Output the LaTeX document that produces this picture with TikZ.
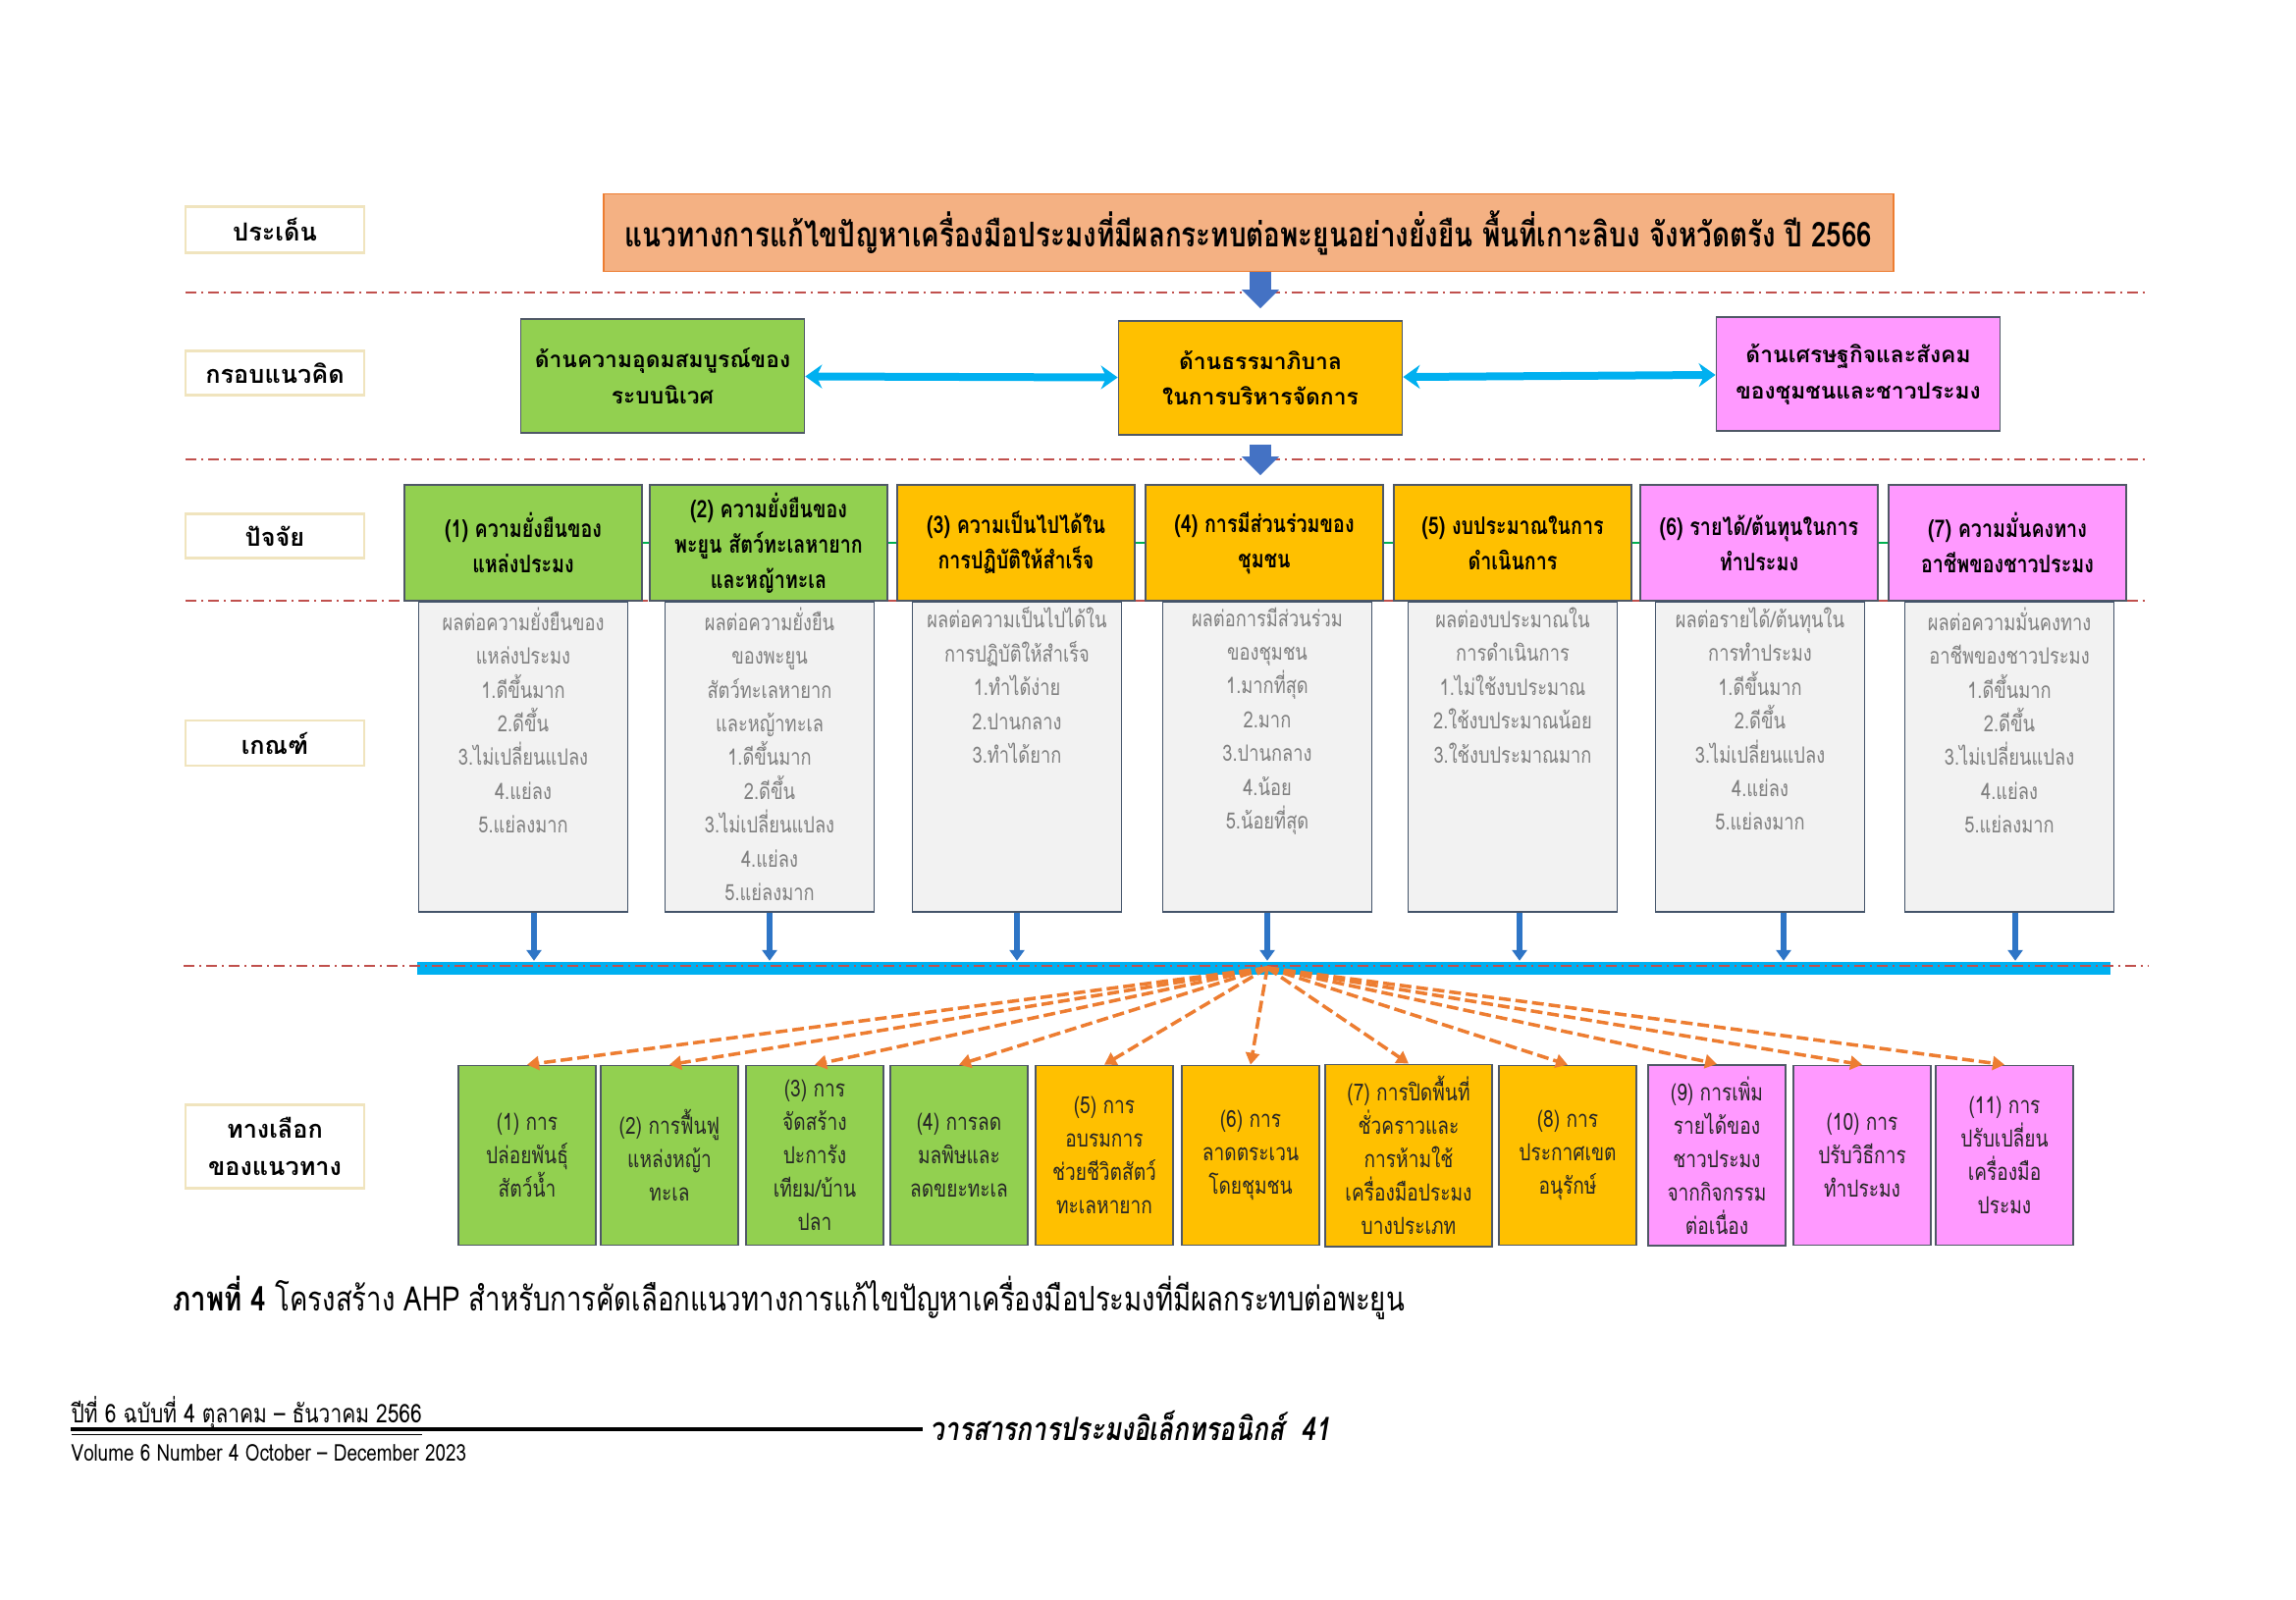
\documentclass[tikz,border=0pt]{standalone}
\usepackage{fontspec}
\usepackage{xcolor}
\usepackage{tikz}
\usetikzlibrary{arrows.meta,positioning,calc}

\newfontfamily\thaifont[Script=Thai]{Loma}
\newfontfamily\thainarrow[Script=Thai,FakeStretch=0.8]{Loma}

\definecolor{titleorange}{HTML}{F4B183}
\definecolor{titleedge}{HTML}{ED7D31}
\definecolor{ecogreen}{HTML}{92D050}
\definecolor{govgold}{HTML}{FFC000}
\definecolor{socpink}{HTML}{FF99FF}
\definecolor{boxedge}{HTML}{4F5866}
\definecolor{critfill}{HTML}{F2F2F2}
\definecolor{critedge}{HTML}{44546A}
\definecolor{crittext}{HTML}{7F7F7F}
\definecolor{downblue}{HTML}{4472C4}
\definecolor{cyanbar}{HTML}{00B0F0}
\definecolor{critblue}{HTML}{2E75C6}
\definecolor{altorange}{HTML}{ED7D31}
\definecolor{sepred}{HTML}{C0504D}
\definecolor{lbledge}{HTML}{F0E4BE}
\definecolor{linkgreen}{HTML}{00B050}

\tikzset{
  lbl/.style={draw=lbledge, line width=0.6pt, fill=white, minimum width=18.2mm, minimum height=4.5mm,
    align=center, font=\thaifont\bfseries\fontsize{7.2}{11}\selectfont},
  concbox/.style={draw=boxedge, line width=0.5pt, minimum width=28.9mm, minimum height=11.6mm,
    align=center, font=\thaifont\bfseries\fontsize{6.5}{10.5}\selectfont},
  factor/.style={draw=boxedge, line width=0.5pt, minimum width=24.2mm, minimum height=11.8mm, inner ysep=0pt,
    align=center, font=\thainarrow\bfseries\fontsize{7}{10.2}\selectfont},
  crit/.style={draw=critedge, fill=critfill, line width=0.5pt, minimum width=21.3mm, minimum height=31.6mm, anchor=north},
  crittxt/.style={align=center, text=crittext, inner sep=0pt, font=\thainarrow\fontsize{6.5}{9.8}\selectfont},
  altbox/.style={draw=boxedge, line width=0.5pt, minimum width=14mm, minimum height=18.3mm,
    align=center, text=black!85, font=\thainarrow\fontsize{6.8}{9.7}\selectfont},
  rowline/.style={sepred, line width=0.45pt, dash pattern=on 1.1mm off 0.5mm on 0.2mm off 0.5mm},
  bigdown/.style={downblue, line width=2.2mm, -{Triangle[width=3.7mm,length=1.9mm]}},
  twoway/.style={cyanbar, line width=0.8mm, {Stealth[width=2.4mm,length=1.7mm]}-{Stealth[width=2.4mm,length=1.7mm]}},
  critarrow/.style={critblue, line width=0.55mm, -{Triangle[width=1.5mm,length=1.1mm]}},
  choicearrow/.style={altorange, line width=1pt, dash pattern=on 1.2mm off 0.5mm, -{Triangle[width=1.4mm,length=1.2mm]}},
}

\begin{document}
\begin{tikzpicture}[x=0.1mm, y=-0.1mm]
    \fill[white] (0,0) rectangle (2339,1629);
    \useasboundingbox (0,0) rectangle (2339,1629);

    % row labels
    \node[lbl] (l1) at (280,234) {ประเด็น};
    \node[lbl] (l2) at (280,380) {กรอบแนวคิด};
    \node[lbl] (l3) at (280,546) {ปัจจัย};
    \node[lbl] (l4) at (280,757) {เกณฑ์};
    \node[lbl, minimum height=8.5mm] (l5) at (280,1168) {ทางเลือก\\ของแนวทาง};

    \draw[rowline] (189,298) -- (2188,298);
    \draw[rowline] (189,468) -- (2188,468);
    \draw[rowline] (189,612) -- (2188,612);

    \node[draw=titleedge, fill=titleorange, line width=0.5pt, minimum width=131.4mm, minimum height=7.9mm,
      font=\thainarrow\bfseries\fontsize{9.9}{12}\selectfont] (goal) at (1272,237)
      {แนวทางการแก้ไขปัญหาเครื่องมือประมงที่มีผลกระทบต่อพะยูนอย่างยั่งยืน พื้นที่เกาะลิบง จังหวัดตรัง ปี 2566};

    \node[concbox, fill=ecogreen] (eco) at (675,383) {ด้านความอุดมสมบูรณ์ของ\\ระบบนิเวศ};
    \node[concbox, fill=govgold] (gov) at (1284,385) {ด้านธรรมาภิบาล\\ในการบริหารจัดการ};
    \node[concbox, fill=socpink] (soc) at (1893,381) {ด้านเศรษฐกิจและสังคม\\ของชุมชนและชาวประมง};

    \draw[bigdown] (goal.south -| gov.north) -- ([yshift=1.2mm]gov.north);
    \draw[twoway] (eco) -- (gov);
    \draw[twoway] (gov) -- (soc);

    \node[factor, fill=ecogreen] (f1) at (533,553) {(1) ความยั่งยืนของ\\แหล่งประมง};
    \node[factor, fill=ecogreen] (f2) at (783,553) {(2) ความยั่งยืนของ\\พะยูน สัตว์ทะเลหายาก\\และหญ้าทะเล};
    \node[factor, fill=govgold] (f3) at (1035,553) {(3) ความเป็นไปได้ใน\\การปฏิบัติให้สำเร็จ};
    \node[factor, fill=govgold] (f4) at (1288,553) {(4) การมีส่วนร่วมของ\\ชุมชน};
    \node[factor, fill=govgold] (f5) at (1541,553) {(5) งบประมาณในการ\\ดำเนินการ};
    \node[factor, fill=socpink] (f6) at (1792,553) {(6) รายได้/ต้นทุนในการ\\ทำประมง};
    \node[factor, fill=socpink] (f7) at (2045,553) {(7) ความมั่นคงทาง\\อาชีพของชาวประมง};

    \draw[bigdown, shorten <=0.9mm, shorten >=0.9mm] (gov.south) -- (gov.south |- f4.north);
    \foreach \a/\b in {f1/f2,f2/f3,f3/f4,f4/f5,f5/f6,f6/f7}
      \draw[linkgreen, line width=0.8pt] (\a) -- (\b);

    \node[crit] (k1) at (533,612) {};
    \node[crit] (k2) at (784,612) {};
    \node[crit] (k3) at (1036,612) {};
    \node[crit] (k4) at (1291,612) {};
    \node[crit] (k5) at (1541,612) {};
    \node[crit] (k6) at (1793,612) {};
    \node[crit] (k7) at (2047,612) {};
    \node[crittxt, below=0.6mm of k1.north] (t1) {ผลต่อความยั่งยืนของ\\แหล่งประมง\\1.ดีขึ้นมาก\\2.ดีขึ้น\\3.ไม่เปลี่ยนแปลง\\4.แย่ลง\\5.แย่ลงมาก};
    \node[crittxt, below=0.6mm of k2.north] (t2) {ผลต่อความยั่งยืน\\ของพะยูน\\สัตว์ทะเลหายาก\\และหญ้าทะเล\\1.ดีขึ้นมาก\\2.ดีขึ้น\\3.ไม่เปลี่ยนแปลง\\4.แย่ลง\\5.แย่ลงมาก};
    \node[crittxt, below=0.6mm of k3.north] (t3) {ผลต่อความเป็นไปได้ใน\\การปฏิบัติให้สำเร็จ\\1.ทำได้ง่าย\\2.ปานกลาง\\3.ทำได้ยาก};
    \node[crittxt, below=0.6mm of k4.north] (t4) {ผลต่อการมีส่วนร่วม\\ของชุมชน\\1.มากที่สุด\\2.มาก\\3.ปานกลาง\\4.น้อย\\5.น้อยที่สุด};
    \node[crittxt, below=0.6mm of k5.north] (t5) {ผลต่องบประมาณใน\\การดำเนินการ\\1.ไม่ใช้งบประมาณ\\2.ใช้งบประมาณน้อย\\3.ใช้งบประมาณมาก};
    \node[crittxt, below=0.6mm of k6.north] (t6) {ผลต่อรายได้/ต้นทุนใน\\การทำประมง\\1.ดีขึ้นมาก\\2.ดีขึ้น\\3.ไม่เปลี่ยนแปลง\\4.แย่ลง\\5.แย่ลงมาก};
    \node[crittxt, below=0.6mm of k7.north] (t7) {ผลต่อความมั่นคงทาง\\อาชีพของชาวประมง\\1.ดีขึ้นมาก\\2.ดีขึ้น\\3.ไม่เปลี่ยนแปลง\\4.แย่ลง\\5.แย่ลงมาก};

    \node[fill=cyanbar, inner sep=0pt, minimum width=172.5mm, minimum height=1.3mm] (bar) at (1287,986) {};
    \draw[rowline] (187,984) -- (2188,984);
    \coordinate (hub) at (k4.south |- bar.center);

    \draw[critarrow] ($(k1.south)+(11,0)$) -- ($(k1.south |- bar.north)+(11,0)$);
    \draw[critarrow] (k2.south) -- (k2.south |- bar.north);
    \draw[critarrow] (k3.south) -- (k3.south |- bar.north);
    \draw[critarrow] (k4.south) -- (k4.south |- bar.north);
    \draw[critarrow] ($(k5.south)+(7,0)$) -- ($(k5.south |- bar.north)+(7,0)$);
    \draw[critarrow] ($(k6.south)+(24,0)$) -- ($(k6.south |- bar.north)+(24,0)$);
    \draw[critarrow] ($(k7.south)+(6,0)$) -- ($(k7.south |- bar.north)+(6,0)$);

    \node[altbox, fill=ecogreen] (a1) at (537,1177) {(1) การ\\ปล่อยพันธุ์\\สัตว์น้ำ};
    \node[altbox, fill=ecogreen] (a2) at (682,1177) {(2) การฟื้นฟู\\แหล่งหญ้า\\ทะเล};
    \node[altbox, fill=ecogreen] (a3) at (830,1177) {(3) การ\\จัดสร้าง\\ปะการัง\\เทียม/บ้าน\\ปลา};
    \node[altbox, fill=ecogreen] (a4) at (977,1177) {(4) การลด\\มลพิษและ\\ลดขยะทะเล};
    \node[altbox, fill=govgold] (a5) at (1125,1177) {(5) การ\\อบรมการ\\ช่วยชีวิตสัตว์\\ทะเลหายาก};
    \node[altbox, fill=govgold] (a6) at (1274,1177) {(6) การ\\ลาดตระเวน\\โดยชุมชน};
    \node[altbox, fill=govgold, minimum width=17mm] (a7) at (1435,1177) {(7) การปิดพื้นที่\\ชั่วคราวและ\\การห้ามใช้\\เครื่องมือประมง\\บางประเภท};
    \node[altbox, fill=govgold] (a8) at (1597,1177) {(8) การ\\ประกาศเขต\\อนุรักษ์};
    \node[altbox, fill=socpink] (a9) at (1749,1177) {(9) การเพิ่ม\\รายได้ของ\\ชาวประมง\\จากกิจกรรม\\ต่อเนื่อง};
    \node[altbox, fill=socpink] (a10) at (1897,1177) {(10) การ\\ปรับวิธีการ\\ทำประมง};
    \node[altbox, fill=socpink] (a11) at (2042,1177) {(11) การ\\ปรับเปลี่ยน\\เครื่องมือ\\ประมง};

    \foreach \n in {1,...,11}
      \draw[choicearrow] (hub) -- (a\n.north);

    \node[anchor=west, inner sep=0pt, font=\thainarrow\fontsize{9.8}{12}\selectfont] (cap) at (176,1322)
      {\textbf{ภาพที่ 4} โครงสร้าง AHP สำหรับการคัดเลือกแนวทางการแก้ไขปัญหาเครื่องมือประมงที่มีผลกระทบต่อพะยูน};

    \node[anchor=west, inner sep=0pt, font=\thainarrow\fontsize{7.45}{9}\selectfont] (issue) at (72,1443)
      {\underline{ปีที่ 6 ฉบับที่ 4 ตุลาคม – ธันวาคม 2566}};
    \draw[line width=1.3pt] (72,1456) -- (940,1456);
    \node[anchor=west, inner sep=0pt, font=\thainarrow\bfseries\itshape\fontsize{9.3}{11}\selectfont] (journal) at (947,1452)
      {วารสารการประมงอิเล็กทรอนิกส์~~41};
    \node[anchor=west, inner sep=0pt, font=\thainarrow\fontsize{6.7}{9}\selectfont] (volume) at (72,1480)
      {Volume 6 Number 4 October – December 2023};
\end{tikzpicture}
\end{document}
